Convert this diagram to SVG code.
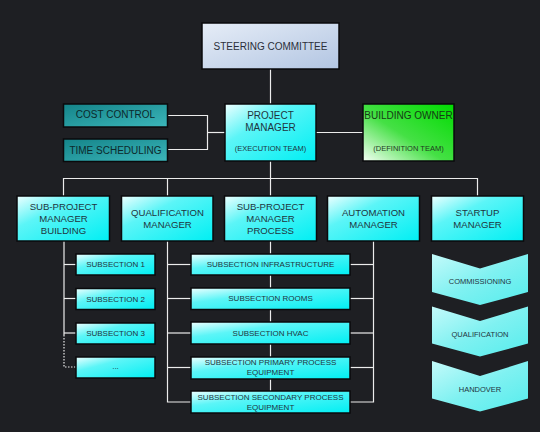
<svg xmlns="http://www.w3.org/2000/svg" width="540" height="432" viewBox="0 0 540 432">
<defs>
<linearGradient id="gSteer" x1="0" y1="0" x2="1" y2="1"><stop offset="0" stop-color="#e6edf7"/><stop offset="1" stop-color="#b2c5e2"/></linearGradient>
<linearGradient id="gCyan" x1="0" y1="0" x2="1" y2="1"><stop offset="0" stop-color="#eeffff"/><stop offset="0.35" stop-color="#5cf5f7"/><stop offset="1" stop-color="#00eff3"/></linearGradient>
<linearGradient id="gChev" x1="0" y1="0" x2="1" y2="1"><stop offset="0" stop-color="#c4fafa"/><stop offset="0.5" stop-color="#7ff1f1"/><stop offset="1" stop-color="#55eded"/></linearGradient>
<linearGradient id="gTeal" x1="0" y1="0" x2="1" y2="1"><stop offset="0" stop-color="#148489"/><stop offset="1" stop-color="#3cb6ba"/></linearGradient>
<linearGradient id="gGreen" x1="0" y1="1" x2="1" y2="0"><stop offset="0" stop-color="#f4fff4"/><stop offset="0.45" stop-color="#45e045"/><stop offset="1" stop-color="#00dc00"/></linearGradient>
</defs>
<style>
.bg{fill:#1e1f23}
.box{stroke:#0a0a0c;stroke-width:1.5}
.cy{fill:url(#gCyan)}
.t{font-family:"Liberation Sans",Arial,Helvetica,sans-serif;text-anchor:middle;dominant-baseline:central;fill:#1f3440}
.f10{font-size:10px}
.f95{font-size:9.6px}
.f8{font-size:8px}
.f75{font-size:7.5px}
.ln{stroke:#ececec;stroke-width:1.2;fill:none}
.dot{stroke:#ececec;stroke-width:1.2;fill:none;stroke-dasharray:1.5 1.5}
</style>
<rect class="bg" x="0" y="0" width="540" height="432"/>
<g id="connectors">
<line class="ln" x1="270.5" y1="69" x2="270.5" y2="104"/>
<polyline class="ln" points="167,115.5 207.5,115.5 207.5,149.5 167,149.5"/>
<line class="ln" x1="207.5" y1="132.5" x2="225" y2="132.5"/>
<line class="ln" x1="316" y1="132.5" x2="363" y2="132.5"/>
<line class="ln" x1="270.5" y1="161" x2="270.5" y2="196"/>
<polyline class="ln" points="63.5,196 63.5,178.5 477.5,178.5 477.5,196"/>
<line class="ln" x1="167.5" y1="178.5" x2="167.5" y2="196"/>
<polyline class="ln" points="64,241 64,335"/>
<line class="ln" x1="64" y1="264.5" x2="76" y2="264.5"/>
<line class="ln" x1="64" y1="298.5" x2="76" y2="298.5"/>
<line class="ln" x1="64" y1="333" x2="76" y2="333"/>
<polyline class="dot" points="64,335 64,367 76,367"/>
<polyline class="ln" points="167.5,241 167.5,402 191,402"/>
<line class="ln" x1="167.5" y1="264.5" x2="191" y2="264.5"/>
<line class="ln" x1="167.5" y1="298.5" x2="191" y2="298.5"/>
<line class="ln" x1="167.5" y1="333" x2="191" y2="333"/>
<line class="ln" x1="167.5" y1="367.5" x2="191" y2="367.5"/>
<polyline class="ln" points="373.5,241 373.5,402 350,402"/>
<line class="ln" x1="350" y1="264.5" x2="373.5" y2="264.5"/>
<line class="ln" x1="350" y1="298.5" x2="373.5" y2="298.5"/>
<line class="ln" x1="350" y1="333" x2="373.5" y2="333"/>
<line class="ln" x1="350" y1="367.5" x2="373.5" y2="367.5"/>
<line class="ln" x1="270.5" y1="241" x2="270.5" y2="391"/>
</g>
<g id="steering"><rect class="box" x="202" y="23" width="137" height="46" fill="url(#gSteer)"/><text class="t f10" x="270.5" y="46.5" style="fill:#2a2f3a">STEERING COMMITTEE</text></g>
<g id="cost"><rect class="box" x="63.5" y="104" width="104" height="23" fill="url(#gTeal)"/><text class="t f10" x="115.5" y="114.5" style="fill:#0c2a2c">COST CONTROL</text></g>
<g id="time"><rect class="box" x="63.5" y="139" width="104" height="22.5" fill="url(#gTeal)"/><text class="t f10" x="115.5" y="150" style="fill:#0c2a2c">TIME SCHEDULING</text></g>
<g id="pm"><rect class="box cy" x="225" y="104" width="91" height="57"/><text class="t f10" x="270.5" y="115">PROJECT</text><text class="t f10" x="270.5" y="127">MANAGER</text><text class="t f75" x="270.5" y="148.5">(EXECUTION TEAM)</text></g>
<g id="owner"><rect class="box" x="363" y="104" width="91" height="57" fill="url(#gGreen)"/><text class="t f10" x="408.5" y="115" style="fill:#153a15">BUILDING OWNER</text><text class="t f75" x="408.5" y="148.5" style="fill:#1e3a1e">(DEFINITION TEAM)</text></g>
<g id="spm-building"><rect class="box cy" x="17" y="196" width="92.5" height="45"/><text class="t f95" x="63.5" y="206.5">SUB-PROJECT</text><text class="t f95" x="63.5" y="218.5">MANAGER</text><text class="t f95" x="63.5" y="230.5">BUILDING</text></g>
<g id="qual-manager"><rect class="box cy" x="121.5" y="196" width="91.5" height="45"/><text class="t f95" x="167.5" y="212.5">QUALIFICATION</text><text class="t f95" x="167.5" y="224.5">MANAGER</text></g>
<g id="spm-process"><rect class="box cy" x="224.5" y="196" width="92" height="45"/><text class="t f95" x="270.5" y="206.5">SUB-PROJECT</text><text class="t f95" x="270.5" y="218.5">MANAGER</text><text class="t f95" x="270.5" y="230.5">PROCESS</text></g>
<g id="automation"><rect class="box cy" x="327.5" y="196" width="92" height="45"/><text class="t f95" x="373.5" y="212.5">AUTOMATION</text><text class="t f95" x="373.5" y="224.5">MANAGER</text></g>
<g id="startup"><rect class="box cy" x="431.5" y="196" width="92" height="45"/><text class="t f95" x="477.5" y="212.5">STARTUP</text><text class="t f95" x="477.5" y="224.5">MANAGER</text></g>
<g id="sub1"><rect class="box cy" x="76" y="254" width="79" height="21"/><text class="t f8" x="115.5" y="264.5">SUBSECTION 1</text></g>
<g id="sub2"><rect class="box cy" x="76" y="288.5" width="79" height="21"/><text class="t f8" x="115.5" y="299">SUBSECTION 2</text></g>
<g id="sub3"><rect class="box cy" x="76" y="323" width="79" height="21"/><text class="t f8" x="115.5" y="333.5">SUBSECTION 3</text></g>
<g id="sub-more"><rect class="box cy" x="76" y="357" width="79" height="21"/><text class="t f8" x="115.5" y="366.5">...</text></g>
<g id="infra"><rect class="box cy" x="191" y="254" width="159" height="21"/><text class="t f8" x="270.5" y="264.5">SUBSECTION INFRASTRUCTURE</text></g>
<g id="rooms"><rect class="box cy" x="191" y="288" width="159" height="21.5"/><text class="t f8" x="270.5" y="298.5">SUBSECTION ROOMS</text></g>
<g id="hvac"><rect class="box cy" x="191" y="322" width="159" height="22"/><text class="t f8" x="270.5" y="333.5">SUBSECTION HVAC</text></g>
<g id="primary"><rect class="box cy" x="191" y="357" width="159" height="22"/><text class="t f8" x="270.5" y="362.5">SUBSECTION PRIMARY PROCESS</text><text class="t f8" x="270.5" y="372.5">EQUIPMENT</text></g>
<g id="secondary"><rect class="box cy" x="191" y="391" width="159" height="22"/><text class="t f8" x="270.5" y="397">SUBSECTION SECONDARY PROCESS</text><text class="t f8" x="270.5" y="407">EQUIPMENT</text></g>
<g id="commissioning"><polygon points="432,254 480,268.5 528,254 528,292 480,305 432,292" fill="url(#gChev)"/><text class="t f75" x="480" y="281">COMMISSIONING</text></g>
<g id="qualification"><polygon points="432,306.5 480,321 528,306.5 528,343.5 480,356.5 432,343.5" fill="url(#gChev)"/><text class="t f75" x="480" y="334">QUALIFICATION</text></g>
<g id="handover"><polygon points="432,361 480,376 528,361 528,398.5 480,411.5 432,398.5" fill="url(#gChev)"/><text class="t f75" x="480" y="389">HANDOVER</text></g>
</svg>
